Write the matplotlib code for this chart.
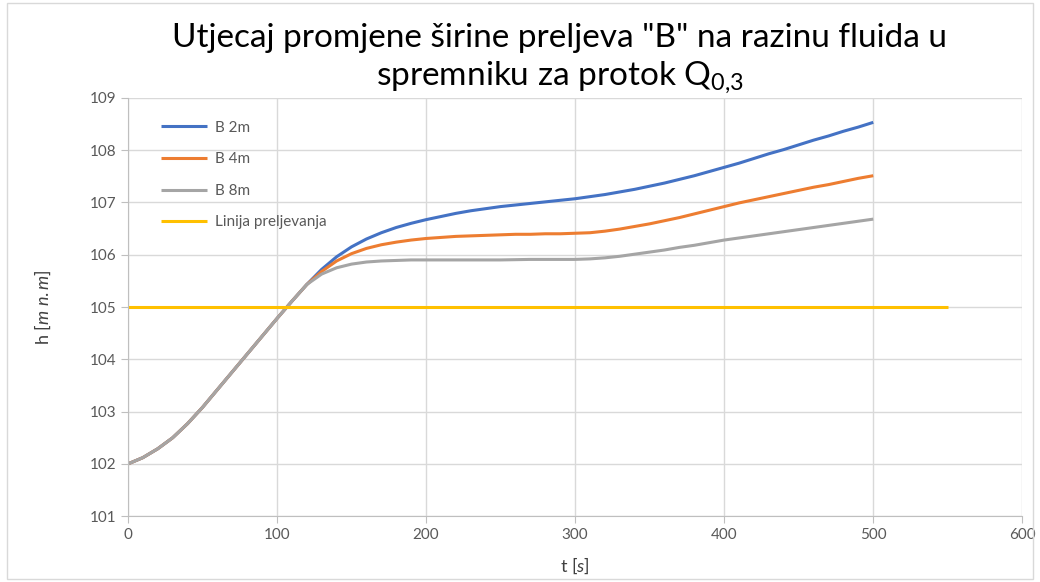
import numpy as np
import matplotlib.pyplot as plt
from matplotlib.patches import Rectangle

plt.rcParams['font.family'] = ['Lato', 'DejaVu Sans']
plt.rcParams['mathtext.fontset'] = 'custom'
plt.rcParams['mathtext.rm'] = 'Lato'
plt.rcParams['mathtext.it'] = 'Lato:italic'

# vrijeme [s]
t = list(range(0, 510, 10))

# zajednicki dio krivulja (0 - 120 s)
h_zajednicki = [102.0, 102.12, 102.29, 102.5, 102.77, 103.08, 103.42, 103.76, 104.1,
                104.44, 104.78, 105.11, 105.43]

h_b2 = h_zajednicki + [105.72, 105.96, 106.15, 106.3, 106.42, 106.52, 106.6, 106.67,
                       106.73, 106.79, 106.84, 106.88, 106.92, 106.95, 106.98, 107.01,
                       107.04, 107.07, 107.11, 107.15, 107.2, 107.25, 107.31, 107.37,
                       107.44, 107.51, 107.59, 107.67, 107.75, 107.84, 107.93, 108.01,
                       108.1, 108.19, 108.27, 108.36, 108.44, 108.53]
h_b4 = h_zajednicki + [105.68, 105.88, 106.02, 106.12, 106.19, 106.24, 106.28, 106.31,
                       106.33, 106.35, 106.36, 106.37, 106.38, 106.39, 106.39, 106.4,
                       106.4, 106.41, 106.42, 106.45, 106.49, 106.54, 106.59, 106.65,
                       106.71, 106.78, 106.85, 106.92, 106.99, 107.05, 107.11, 107.17,
                       107.23, 107.29, 107.34, 107.4, 107.46, 107.51]
h_b8 = h_zajednicki + [105.63, 105.75, 105.82, 105.86, 105.88, 105.89, 105.9, 105.9,
                       105.9, 105.9, 105.9, 105.9, 105.9, 105.905, 105.91, 105.91,
                       105.91, 105.91, 105.92, 105.94, 105.97, 106.01, 106.05, 106.09,
                       106.14, 106.18, 106.23, 106.28, 106.32, 106.36, 106.4, 106.44,
                       106.48, 106.52, 106.56, 106.6, 106.64, 106.68]

# linija preljevanja
t_prelj = [0, 550]
h_prelj = [105, 105]

fig = plt.figure(figsize=(10.4, 5.82), dpi=100)
ax = fig.add_axes([0.123, 0.113, 0.86, 0.719])

stil = dict(lw=2.2, solid_joinstyle='round', solid_capstyle='butt')
ax.plot(t, h_b2, color='#4472C4', label='B 2m', **stil)
ax.plot(t, h_b4, color='#ED7D31', label='B 4m', **stil)
ax.plot(t, h_b8, color='#A5A5A5', label='B 8m', **stil)
ax.plot(t_prelj, h_prelj, color='#FFC000', label='Linija preljevanja', **stil)

ax.set_xlim(0, 600)
ax.set_ylim(101, 109)
ax.set_xticks(range(0, 700, 100))
ax.set_yticks(range(101, 110))
ax.grid(True, color='#D9D9D9', lw=1)
ax.set_axisbelow(True)
for s in ['top', 'right']:
    ax.spines[s].set_visible(False)
for s in ['left', 'bottom']:
    ax.spines[s].set_color('#BFBFBF')
ax.tick_params(colors='#BFBFBF', labelcolor='#595959', labelsize=11, length=5)

ax.set_xlabel('t [$\\it{s}$]', fontsize=13, color='#404040', labelpad=10)
ax.set_ylabel('h [$\\it{m\\ n.m}$]', fontsize=13, color='#404040', labelpad=26)

ax.legend(loc='upper left', frameon=False, fontsize=11, labelcolor='#595959',
          handlelength=3.0, handletextpad=0.5, labelspacing=1.15,
          bbox_to_anchor=(0.022, 0.978), borderaxespad=0.5)

fig.text(0.538, 0.934, 'Utjecaj promjene širine preljeva "B" na razinu fluida u',
         ha='center', va='center', fontsize=24)
fig.text(0.538, 0.868, 'spremniku za protok Q$_{0{,}3}$',
         ha='center', va='center', fontsize=24)

fig.patches.append(Rectangle((0.007, 0.005), 0.986, 0.99, transform=fig.transFigure,
                             fill=False, edgecolor='#D9D9D9', lw=1))

fig.savefig('out.png', dpi=100)
